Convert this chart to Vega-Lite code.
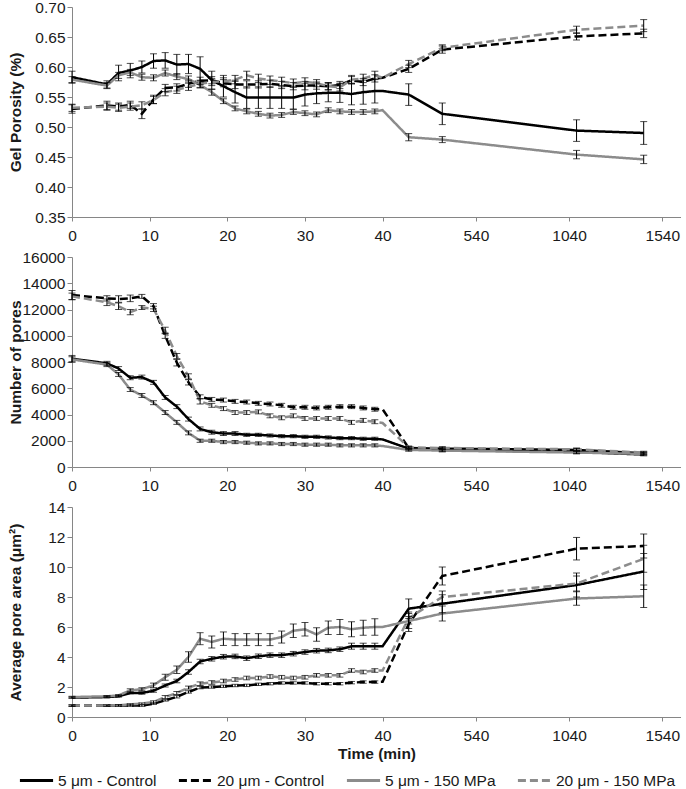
{
"$schema": "https://vega.github.io/schema/vega-lite/v6.json",
"padding": {"left": 7, "top": 0, "right": 0, "bottom": 0},
"spacing": 40,
"bounds": "flush",
"config": {
  "view": {"stroke": null},
  "font": "Liberation Sans",
  "axis": {"grid": false, "domainColor": "#868686", "tickColor": "#868686", "tickSize": 5, "labelFont": "Liberation Sans", "labelFontSize": 15.5, "labelColor": "#1a1a1a", "labelFlush": false, "labelOverlap": false, "titleFont": "Liberation Sans", "titleFontSize": 15.5, "titleFontWeight": "bold", "titleColor": "#1a1a1a"},
  "axisX": {"labelPadding": 7, "titlePadding": 3, "tickSize": 4},
  "axisY": {"labelPadding": 2, "titleX": -49, "titleBaseline": "bottom"}
},
"datasets": {
"a": [
{"t":0,"s":"c5","v":0.583,"e":0.01},{"t":4.5,"s":"c5","v":0.571,"e":0.006},{"t":6,"s":"c5","v":0.59,"e":0.013},{"t":7.5,"s":"c5","v":0.594,"e":0.012},{"t":9,"s":"c5","v":0.6,"e":0.01},{"t":10.5,"s":"c5","v":0.61,"e":0.012},{"t":12,"s":"c5","v":0.611,"e":0.013},{"t":13.5,"s":"c5","v":0.604,"e":0.017},{"t":15,"s":"c5","v":0.605,"e":0.016},{"t":16.5,"s":"c5","v":0.597,"e":0.02},{"t":18,"s":"c5","v":0.578,"e":0.015},{"t":19.5,"s":"c5","v":0.568,"e":0.018},{"t":21,"s":"c5","v":0.558,"e":0.018},{"t":22.5,"s":"c5","v":0.549,"e":0.018},{"t":24,"s":"c5","v":0.549,"e":0.018},{"t":25.5,"s":"c5","v":0.549,"e":0.018},{"t":27,"s":"c5","v":0.549,"e":0.018},{"t":28.5,"s":"c5","v":0.549,"e":0.019},{"t":30,"s":"c5","v":0.554,"e":0.019},{"t":31.5,"s":"c5","v":0.556,"e":0.017},{"t":33,"s":"c5","v":0.557,"e":0.015},{"t":34.5,"s":"c5","v":0.557,"e":0.016},{"t":36,"s":"c5","v":0.555,"e":0.018},{"t":37.5,"s":"c5","v":0.558,"e":0.02},{"t":39,"s":"c5","v":0.56,"e":0.02},{"t":40,"s":"c5","v":0.56},{"t":180,"s":"c5","v":0.554,"e":0.018},{"t":360,"s":"c5","v":0.522,"e":0.018},{"t":1080,"s":"c5","v":0.494,"e":0.018},{"t":1440,"s":"c5","v":0.49,"e":0.019},
{"t":0,"s":"c20","v":0.53,"e":0.007},{"t":4.5,"s":"c20","v":0.536,"e":0.007},{"t":6,"s":"c20","v":0.534,"e":0.006},{"t":7.5,"s":"c20","v":0.537,"e":0.006},{"t":9,"s":"c20","v":0.522,"e":0.008},{"t":10.5,"s":"c20","v":0.546,"e":0.007},{"t":12,"s":"c20","v":0.565,"e":0.006},{"t":13.5,"s":"c20","v":0.566,"e":0.006},{"t":15,"s":"c20","v":0.572,"e":0.006},{"t":16.5,"s":"c20","v":0.577,"e":0.006},{"t":18,"s":"c20","v":0.578,"e":0.006},{"t":19.5,"s":"c20","v":0.573,"e":0.006},{"t":21,"s":"c20","v":0.571,"e":0.007},{"t":22.5,"s":"c20","v":0.571,"e":0.006},{"t":24,"s":"c20","v":0.571,"e":0.006},{"t":25.5,"s":"c20","v":0.572,"e":0.006},{"t":27,"s":"c20","v":0.57,"e":0.006},{"t":28.5,"s":"c20","v":0.568,"e":0.006},{"t":30,"s":"c20","v":0.569,"e":0.007},{"t":31.5,"s":"c20","v":0.569,"e":0.006},{"t":33,"s":"c20","v":0.568,"e":0.006},{"t":34.5,"s":"c20","v":0.57,"e":0.006},{"t":36,"s":"c20","v":0.578,"e":0.006},{"t":37.5,"s":"c20","v":0.575,"e":0.006},{"t":39,"s":"c20","v":0.581,"e":0.006},{"t":40,"s":"c20","v":0.582},{"t":180,"s":"c20","v":0.597,"e":0.006},{"t":360,"s":"c20","v":0.629,"e":0.006},{"t":1080,"s":"c20","v":0.651,"e":0.006},{"t":1440,"s":"c20","v":0.656,"e":0.007},
{"t":0,"s":"p5","v":0.579,"e":0.005},{"t":4.5,"s":"p5","v":0.569,"e":0.005},{"t":6,"s":"p5","v":0.586,"e":0.005},{"t":7.5,"s":"p5","v":0.591,"e":0.005},{"t":9,"s":"p5","v":0.583,"e":0.005},{"t":10.5,"s":"p5","v":0.582,"e":0.005},{"t":12,"s":"p5","v":0.59,"e":0.005},{"t":13.5,"s":"p5","v":0.584,"e":0.005},{"t":15,"s":"p5","v":0.58,"e":0.005},{"t":16.5,"s":"p5","v":0.57,"e":0.005},{"t":18,"s":"p5","v":0.558,"e":0.005},{"t":19.5,"s":"p5","v":0.543,"e":0.004},{"t":21,"s":"p5","v":0.531,"e":0.004},{"t":22.5,"s":"p5","v":0.526,"e":0.004},{"t":24,"s":"p5","v":0.522,"e":0.004},{"t":25.5,"s":"p5","v":0.519,"e":0.004},{"t":27,"s":"p5","v":0.52,"e":0.004},{"t":28.5,"s":"p5","v":0.525,"e":0.004},{"t":30,"s":"p5","v":0.523,"e":0.004},{"t":31.5,"s":"p5","v":0.521,"e":0.004},{"t":33,"s":"p5","v":0.528,"e":0.004},{"t":34.5,"s":"p5","v":0.526,"e":0.004},{"t":36,"s":"p5","v":0.525,"e":0.004},{"t":37.5,"s":"p5","v":0.525,"e":0.004},{"t":39,"s":"p5","v":0.526,"e":0.004},{"t":40,"s":"p5","v":0.528},{"t":180,"s":"p5","v":0.483,"e":0.006},{"t":360,"s":"p5","v":0.479,"e":0.005},{"t":1080,"s":"p5","v":0.454,"e":0.007},{"t":1440,"s":"p5","v":0.446,"e":0.007},
{"t":0,"s":"p20","v":0.532,"e":0.006},{"t":4.5,"s":"p20","v":0.534,"e":0.006},{"t":6,"s":"p20","v":0.532,"e":0.006},{"t":7.5,"s":"p20","v":0.534,"e":0.006},{"t":9,"s":"p20","v":0.536,"e":0.006},{"t":10.5,"s":"p20","v":0.545,"e":0.006},{"t":12,"s":"p20","v":0.558,"e":0.006},{"t":13.5,"s":"p20","v":0.562,"e":0.006},{"t":15,"s":"p20","v":0.567,"e":0.006},{"t":16.5,"s":"p20","v":0.572,"e":0.006},{"t":18,"s":"p20","v":0.575,"e":0.006},{"t":19.5,"s":"p20","v":0.576,"e":0.006},{"t":21,"s":"p20","v":0.579,"e":0.007},{"t":22.5,"s":"p20","v":0.586,"e":0.007},{"t":24,"s":"p20","v":0.581,"e":0.007},{"t":25.5,"s":"p20","v":0.578,"e":0.007},{"t":27,"s":"p20","v":0.576,"e":0.007},{"t":28.5,"s":"p20","v":0.573,"e":0.007},{"t":30,"s":"p20","v":0.575,"e":0.007},{"t":31.5,"s":"p20","v":0.573,"e":0.006},{"t":33,"s":"p20","v":0.568,"e":0.006},{"t":34.5,"s":"p20","v":0.566,"e":0.006},{"t":36,"s":"p20","v":0.579,"e":0.007},{"t":37.5,"s":"p20","v":0.581,"e":0.007},{"t":39,"s":"p20","v":0.586,"e":0.007},{"t":40,"s":"p20","v":0.582},{"t":180,"s":"p20","v":0.605,"e":0.006},{"t":360,"s":"p20","v":0.632,"e":0.005},{"t":1080,"s":"p20","v":0.662,"e":0.006},{"t":1440,"s":"p20","v":0.669,"e":0.01}
],
"b": [
{"t":0,"s":"c5","v":8250,"e":250},{"t":4.5,"s":"c5","v":7900,"e":150},{"t":6,"s":"c5","v":7500,"e":150},{"t":7.5,"s":"c5","v":6800,"e":150},{"t":9,"s":"c5","v":6850,"e":150},{"t":10.5,"s":"c5","v":6450,"e":150},{"t":12,"s":"c5","v":5300,"e":150},{"t":13.5,"s":"c5","v":4600,"e":150},{"t":15,"s":"c5","v":3650,"e":150},{"t":16.5,"s":"c5","v":2900,"e":150},{"t":18,"s":"c5","v":2650,"e":150},{"t":19.5,"s":"c5","v":2550,"e":150},{"t":21,"s":"c5","v":2550,"e":150},{"t":22.5,"s":"c5","v":2450,"e":120},{"t":24,"s":"c5","v":2450,"e":120},{"t":25.5,"s":"c5","v":2400,"e":120},{"t":27,"s":"c5","v":2350,"e":120},{"t":28.5,"s":"c5","v":2350,"e":120},{"t":30,"s":"c5","v":2300,"e":120},{"t":31.5,"s":"c5","v":2300,"e":120},{"t":33,"s":"c5","v":2250,"e":120},{"t":34.5,"s":"c5","v":2200,"e":120},{"t":36,"s":"c5","v":2200,"e":120},{"t":37.5,"s":"c5","v":2150,"e":120},{"t":39,"s":"c5","v":2150,"e":120},{"t":40,"s":"c5","v":2100},{"t":180,"s":"c5","v":1400,"e":100},{"t":360,"s":"c5","v":1300,"e":100},{"t":1080,"s":"c5","v":1150,"e":100},{"t":1440,"s":"c5","v":950,"e":100},
{"t":0,"s":"c20","v":13100,"e":350},{"t":4.5,"s":"c20","v":12850,"e":200},{"t":6,"s":"c20","v":12800,"e":250},{"t":7.5,"s":"c20","v":12850,"e":250},{"t":9,"s":"c20","v":13000,"e":150},{"t":10.5,"s":"c20","v":12250,"e":200},{"t":12,"s":"c20","v":10000,"e":200},{"t":13.5,"s":"c20","v":7950,"e":250},{"t":15,"s":"c20","v":6450,"e":200},{"t":16.5,"s":"c20","v":5350,"e":150},{"t":18,"s":"c20","v":5150,"e":150},{"t":19.5,"s":"c20","v":5100,"e":150},{"t":21,"s":"c20","v":5000,"e":150},{"t":22.5,"s":"c20","v":4950,"e":150},{"t":24,"s":"c20","v":4850,"e":150},{"t":25.5,"s":"c20","v":4800,"e":150},{"t":27,"s":"c20","v":4700,"e":150},{"t":28.5,"s":"c20","v":4550,"e":150},{"t":30,"s":"c20","v":4550,"e":150},{"t":31.5,"s":"c20","v":4500,"e":150},{"t":33,"s":"c20","v":4550,"e":150},{"t":34.5,"s":"c20","v":4600,"e":150},{"t":36,"s":"c20","v":4600,"e":150},{"t":37.5,"s":"c20","v":4500,"e":150},{"t":39,"s":"c20","v":4400,"e":150},{"t":40,"s":"c20","v":4400},{"t":180,"s":"c20","v":1450,"e":100},{"t":360,"s":"c20","v":1400,"e":100},{"t":1080,"s":"c20","v":1300,"e":100},{"t":1440,"s":"c20","v":1050,"e":100},
{"t":0,"s":"p5","v":8200,"e":200},{"t":4.5,"s":"p5","v":7800,"e":150},{"t":6,"s":"p5","v":7050,"e":150},{"t":7.5,"s":"p5","v":5900,"e":150},{"t":9,"s":"p5","v":5450,"e":150},{"t":10.5,"s":"p5","v":4900,"e":150},{"t":12,"s":"p5","v":4150,"e":150},{"t":13.5,"s":"p5","v":3400,"e":150},{"t":15,"s":"p5","v":2600,"e":150},{"t":16.5,"s":"p5","v":2000,"e":120},{"t":18,"s":"p5","v":2000,"e":120},{"t":19.5,"s":"p5","v":1900,"e":120},{"t":21,"s":"p5","v":1900,"e":120},{"t":22.5,"s":"p5","v":1850,"e":120},{"t":24,"s":"p5","v":1800,"e":120},{"t":25.5,"s":"p5","v":1800,"e":120},{"t":27,"s":"p5","v":1750,"e":120},{"t":28.5,"s":"p5","v":1750,"e":120},{"t":30,"s":"p5","v":1700,"e":120},{"t":31.5,"s":"p5","v":1700,"e":120},{"t":33,"s":"p5","v":1700,"e":120},{"t":34.5,"s":"p5","v":1650,"e":120},{"t":36,"s":"p5","v":1650,"e":120},{"t":37.5,"s":"p5","v":1650,"e":120},{"t":39,"s":"p5","v":1650,"e":120},{"t":40,"s":"p5","v":1600},{"t":180,"s":"p5","v":1300,"e":100},{"t":360,"s":"p5","v":1250,"e":100},{"t":1080,"s":"p5","v":1100,"e":100},{"t":1440,"s":"p5","v":1000,"e":100},
{"t":0,"s":"p20","v":13000,"e":250},{"t":4.5,"s":"p20","v":12550,"e":250},{"t":6,"s":"p20","v":12250,"e":250},{"t":7.5,"s":"p20","v":11800,"e":200},{"t":9,"s":"p20","v":12150,"e":150},{"t":10.5,"s":"p20","v":12050,"e":200},{"t":12,"s":"p20","v":10400,"e":250},{"t":13.5,"s":"p20","v":8450,"e":200},{"t":15,"s":"p20","v":6900,"e":200},{"t":16.5,"s":"p20","v":5000,"e":200},{"t":18,"s":"p20","v":4700,"e":150},{"t":19.5,"s":"p20","v":4450,"e":150},{"t":21,"s":"p20","v":4150,"e":150},{"t":22.5,"s":"p20","v":4150,"e":150},{"t":24,"s":"p20","v":4200,"e":150},{"t":25.5,"s":"p20","v":3900,"e":150},{"t":27,"s":"p20","v":3750,"e":150},{"t":28.5,"s":"p20","v":3900,"e":150},{"t":30,"s":"p20","v":3700,"e":150},{"t":31.5,"s":"p20","v":3700,"e":150},{"t":33,"s":"p20","v":3700,"e":150},{"t":34.5,"s":"p20","v":3700,"e":150},{"t":36,"s":"p20","v":3400,"e":150},{"t":37.5,"s":"p20","v":3550,"e":150},{"t":39,"s":"p20","v":3450,"e":150},{"t":40,"s":"p20","v":3350},{"t":180,"s":"p20","v":1500,"e":100},{"t":360,"s":"p20","v":1450,"e":100},{"t":1080,"s":"p20","v":1350,"e":100},{"t":1440,"s":"p20","v":1100,"e":100}
],
"c": [
{"t":0,"s":"c5","v":1.29,"e":0.05},{"t":4.5,"s":"c5","v":1.33,"e":0.05},{"t":6,"s":"c5","v":1.38,"e":0.05},{"t":7.5,"s":"c5","v":1.6,"e":0.05},{"t":9,"s":"c5","v":1.6,"e":0.08},{"t":10.5,"s":"c5","v":1.75,"e":0.1},{"t":12,"s":"c5","v":2.1,"e":0.1},{"t":13.5,"s":"c5","v":2.4,"e":0.12},{"t":15,"s":"c5","v":3.0,"e":0.15},{"t":16.5,"s":"c5","v":3.7,"e":0.15},{"t":18,"s":"c5","v":3.88,"e":0.15},{"t":19.5,"s":"c5","v":4.02,"e":0.15},{"t":21,"s":"c5","v":4.04,"e":0.15},{"t":22.5,"s":"c5","v":3.92,"e":0.15},{"t":24,"s":"c5","v":4.05,"e":0.15},{"t":25.5,"s":"c5","v":4.12,"e":0.15},{"t":27,"s":"c5","v":4.12,"e":0.15},{"t":28.5,"s":"c5","v":4.22,"e":0.15},{"t":30,"s":"c5","v":4.33,"e":0.15},{"t":31.5,"s":"c5","v":4.42,"e":0.15},{"t":33,"s":"c5","v":4.44,"e":0.15},{"t":34.5,"s":"c5","v":4.52,"e":0.15},{"t":36,"s":"c5","v":4.72,"e":0.2},{"t":37.5,"s":"c5","v":4.72,"e":0.2},{"t":39,"s":"c5","v":4.72,"e":0.2},{"t":40,"s":"c5","v":4.72},{"t":180,"s":"c5","v":7.22,"e":0.65},{"t":360,"s":"c5","v":7.55,"e":0.6},{"t":1080,"s":"c5","v":8.8,"e":0.8},{"t":1440,"s":"c5","v":9.7,"e":1.2},
{"t":0,"s":"c20","v":0.76,"e":0.05},{"t":4.5,"s":"c20","v":0.76,"e":0.05},{"t":6,"s":"c20","v":0.76,"e":0.05},{"t":7.5,"s":"c20","v":0.76,"e":0.05},{"t":9,"s":"c20","v":0.76,"e":0.05},{"t":10.5,"s":"c20","v":0.89,"e":0.05},{"t":12,"s":"c20","v":1.11,"e":0.05},{"t":13.5,"s":"c20","v":1.35,"e":0.08},{"t":15,"s":"c20","v":1.67,"e":0.08},{"t":16.5,"s":"c20","v":1.96,"e":0.08},{"t":18,"s":"c20","v":2.0,"e":0.08},{"t":19.5,"s":"c20","v":2.05,"e":0.08},{"t":21,"s":"c20","v":2.1,"e":0.08},{"t":22.5,"s":"c20","v":2.11,"e":0.08},{"t":24,"s":"c20","v":2.18,"e":0.08},{"t":25.5,"s":"c20","v":2.22,"e":0.08},{"t":27,"s":"c20","v":2.27,"e":0.08},{"t":28.5,"s":"c20","v":2.27,"e":0.08},{"t":30,"s":"c20","v":2.27,"e":0.08},{"t":31.5,"s":"c20","v":2.22,"e":0.08},{"t":33,"s":"c20","v":2.22,"e":0.08},{"t":34.5,"s":"c20","v":2.22,"e":0.08},{"t":36,"s":"c20","v":2.29,"e":0.08},{"t":37.5,"s":"c20","v":2.33,"e":0.08},{"t":39,"s":"c20","v":2.33,"e":0.08},{"t":40,"s":"c20","v":2.35},{"t":180,"s":"c20","v":6.2,"e":0.5},{"t":360,"s":"c20","v":9.4,"e":0.6},{"t":1080,"s":"c20","v":11.22,"e":0.75},{"t":1440,"s":"c20","v":11.4,"e":0.8},
{"t":0,"s":"p5","v":1.33,"e":0.05},{"t":4.5,"s":"p5","v":1.38,"e":0.05},{"t":6,"s":"p5","v":1.44,"e":0.05},{"t":7.5,"s":"p5","v":1.78,"e":0.1},{"t":9,"s":"p5","v":1.85,"e":0.1},{"t":10.5,"s":"p5","v":2.11,"e":0.15},{"t":12,"s":"p5","v":2.65,"e":0.2},{"t":13.5,"s":"p5","v":3.15,"e":0.25},{"t":15,"s":"p5","v":4.0,"e":0.35},{"t":16.5,"s":"p5","v":5.22,"e":0.4},{"t":18,"s":"p5","v":5.0,"e":0.4},{"t":19.5,"s":"p5","v":5.22,"e":0.45},{"t":21,"s":"p5","v":5.16,"e":0.4},{"t":22.5,"s":"p5","v":5.16,"e":0.4},{"t":24,"s":"p5","v":5.16,"e":0.4},{"t":25.5,"s":"p5","v":5.16,"e":0.4},{"t":27,"s":"p5","v":5.33,"e":0.4},{"t":28.5,"s":"p5","v":5.75,"e":0.45},{"t":30,"s":"p5","v":5.85,"e":0.45},{"t":31.5,"s":"p5","v":5.5,"e":0.45},{"t":33,"s":"p5","v":5.95,"e":0.45},{"t":34.5,"s":"p5","v":6.0,"e":0.5},{"t":36,"s":"p5","v":5.85,"e":0.5},{"t":37.5,"s":"p5","v":5.95,"e":0.5},{"t":39,"s":"p5","v":6.0,"e":0.55},{"t":40,"s":"p5","v":6.0},{"t":180,"s":"p5","v":6.4,"e":0.5},{"t":360,"s":"p5","v":6.9,"e":0.5},{"t":1080,"s":"p5","v":7.9,"e":0.45},{"t":1440,"s":"p5","v":8.05,"e":0.75},
{"t":0,"s":"p20","v":0.76,"e":0.05},{"t":4.5,"s":"p20","v":0.76,"e":0.05},{"t":6,"s":"p20","v":0.78,"e":0.05},{"t":7.5,"s":"p20","v":0.84,"e":0.05},{"t":9,"s":"p20","v":0.89,"e":0.05},{"t":10.5,"s":"p20","v":1.0,"e":0.08},{"t":12,"s":"p20","v":1.33,"e":0.1},{"t":13.5,"s":"p20","v":1.6,"e":0.1},{"t":15,"s":"p20","v":1.96,"e":0.1},{"t":16.5,"s":"p20","v":2.22,"e":0.12},{"t":18,"s":"p20","v":2.3,"e":0.12},{"t":19.5,"s":"p20","v":2.4,"e":0.12},{"t":21,"s":"p20","v":2.5,"e":0.12},{"t":22.5,"s":"p20","v":2.6,"e":0.12},{"t":24,"s":"p20","v":2.6,"e":0.12},{"t":25.5,"s":"p20","v":2.7,"e":0.12},{"t":27,"s":"p20","v":2.65,"e":0.12},{"t":28.5,"s":"p20","v":2.6,"e":0.12},{"t":30,"s":"p20","v":2.65,"e":0.12},{"t":31.5,"s":"p20","v":2.78,"e":0.12},{"t":33,"s":"p20","v":2.78,"e":0.12},{"t":34.5,"s":"p20","v":2.78,"e":0.12},{"t":36,"s":"p20","v":3.1,"e":0.12},{"t":37.5,"s":"p20","v":3.0,"e":0.12},{"t":39,"s":"p20","v":3.1,"e":0.12},{"t":40,"s":"p20","v":3.1},{"t":180,"s":"p20","v":6.6,"e":0.4},{"t":360,"s":"p20","v":8.0,"e":0.4},{"t":1080,"s":"p20","v":8.9,"e":0.5},{"t":1440,"s":"p20","v":10.55,"e":0.9}
]
},
"vconcat": [
{
  "width": 609, "height": 210,
  "data": {"name": "a"},
  "encoding": {
    "x": {"field": "t", "type": "quantitative", "scale": {"domain": [0, 40, 1640], "range": [0, 310.6, 609], "nice": false, "zero": false}, "axis": {"values": [0, 10, 20, 30, 40, 540, 1040, 1540], "format": "d", "title": null}},
    "y": {"field": "v", "type": "quantitative", "scale": {"domain": [0.35, 0.7], "nice": false, "zero": false}, "axis": {"values": [0.35, 0.4, 0.45, 0.5, 0.55, 0.6, 0.65, 0.7], "format": ".2f", "title": "Gel Porosity (%)"}}
  },
  "layer": [
    {"mark": {"type": "line", "strokeWidth": 2.5},
     "encoding": {
       "color": {"field": "s", "type": "nominal", "scale": {"domain": ["c5", "c20", "p5", "p20"], "range": ["#000000", "#000000", "#8c8c8c", "#8c8c8c"]},
         "legend": {"orient": "none", "legendX": -54, "legendY": 755, "direction": "horizontal", "title": null, "symbolType": "stroke", "symbolSize": 1100, "symbolStrokeWidth": 3, "columnPadding": 15, "labelOffset": 3, "labelLimit": 0, "labelFontSize": 15.5, "labelFont": "Liberation Sans", "labelColor": "#1a1a1a", "labelExpr": "datum.label == 'c5' ? '5 μm - Control' : datum.label == 'c20' ? '20 μm - Control' : datum.label == 'p5' ? '5 μm - 150 MPa' : '20 μm - 150 MPa'"}},
       "strokeDash": {"field": "s", "type": "nominal", "scale": {"domain": ["c5", "c20", "p5", "p20"], "range": [[1, 0], [8, 4], [1, 0], [8, 4]]},
         "legend": {"orient": "none", "legendX": -54, "legendY": 755, "direction": "horizontal", "title": null, "symbolType": "stroke", "symbolSize": 1100, "symbolStrokeWidth": 3, "columnPadding": 15, "labelOffset": 3, "labelLimit": 0, "labelFontSize": 15.5, "labelFont": "Liberation Sans", "labelColor": "#1a1a1a", "labelExpr": "datum.label == 'c5' ? '5 μm - Control' : datum.label == 'c20' ? '20 μm - Control' : datum.label == 'p5' ? '5 μm - 150 MPa' : '20 μm - 150 MPa'"}}
     }},
    {"transform": [{"filter": "isValid(datum.e)"}],
     "mark": {"type": "errorbar", "ticks": {"size": 7}, "color": "#000000", "thickness": 1},
     "encoding": {"yError": {"field": "e"}}},
    {"data": {"values": [{}]}, "mark": {"type": "rule", "color": "#868686", "strokeWidth": 1.5},
     "encoding": {"x": {"datum": 45}, "x2": {"datum": 99}, "y": {"datum": 0.339}, "y2": {"datum": 0.36}}},
    {"data": {"values": [{}]}, "mark": {"type": "rule", "color": "#868686", "strokeWidth": 1.5},
     "encoding": {"x": {"datum": 140}, "x2": {"datum": 192}, "y": {"datum": 0.339}, "y2": {"datum": 0.36}}},
    {"data": {"values": [{}]}, "mark": {"type": "text", "text": "A", "fontSize": 16, "fontWeight": "bold", "align": "left", "baseline": "middle", "color": "#000000"},
     "encoding": {"x": {"datum": 1.1}, "y": {"datum": 0.682}}}
  ]
},
{
  "width": 609, "height": 210,
  "data": {"name": "b"},
  "encoding": {
    "x": {"field": "t", "type": "quantitative", "scale": {"domain": [0, 40, 1640], "range": [0, 310.6, 609], "nice": false, "zero": false}, "axis": {"values": [0, 10, 20, 30, 40, 540, 1040, 1540], "format": "d", "title": null}},
    "y": {"field": "v", "type": "quantitative", "scale": {"domain": [0, 16000], "nice": false}, "axis": {"values": [0, 2000, 4000, 6000, 8000, 10000, 12000, 14000, 16000], "format": "d", "title": "Number of pores"}}
  },
  "layer": [
    {"mark": {"type": "line", "strokeWidth": 2.5},
     "encoding": {
       "color": {"field": "s", "type": "nominal", "scale": {"domain": ["c5", "c20", "p5", "p20"], "range": ["#000000", "#000000", "#8c8c8c", "#8c8c8c"]}},
       "strokeDash": {"field": "s", "type": "nominal", "scale": {"domain": ["c5", "c20", "p5", "p20"], "range": [[1, 0], [8, 4], [1, 0], [8, 4]]}}
     }},
    {"transform": [{"filter": "isValid(datum.e)"}],
     "mark": {"type": "errorbar", "ticks": {"size": 7}, "color": "#000000", "thickness": 1},
     "encoding": {"yError": {"field": "e"}}},
    {"data": {"values": [{}]}, "mark": {"type": "rule", "color": "#868686", "strokeWidth": 1.5},
     "encoding": {"x": {"datum": 45}, "x2": {"datum": 99}, "y": {"datum": -500}, "y2": {"datum": 480}}},
    {"data": {"values": [{}]}, "mark": {"type": "rule", "color": "#868686", "strokeWidth": 1.5},
     "encoding": {"x": {"datum": 140}, "x2": {"datum": 192}, "y": {"datum": -500}, "y2": {"datum": 480}}},
    {"data": {"values": [{}]}, "mark": {"type": "text", "text": "B", "fontSize": 16, "fontWeight": "bold", "align": "left", "baseline": "middle", "color": "#000000"},
     "encoding": {"x": {"datum": 1.1}, "y": {"datum": 15100}}}
  ]
},
{
  "width": 609, "height": 210,
  "data": {"name": "c"},
  "encoding": {
    "x": {"field": "t", "type": "quantitative", "scale": {"domain": [0, 40, 1640], "range": [0, 310.6, 609], "nice": false, "zero": false}, "axis": {"values": [0, 10, 20, 30, 40, 540, 1040, 1540], "format": "d", "title": "Time (min)"}},
    "y": {"field": "v", "type": "quantitative", "scale": {"domain": [0, 14], "nice": false}, "axis": {"values": [0, 2, 4, 6, 8, 10, 12, 14], "format": "d", "title": "Average pore area (μm²)"}}
  },
  "layer": [
    {"mark": {"type": "line", "strokeWidth": 2.5},
     "encoding": {
       "color": {"field": "s", "type": "nominal", "scale": {"domain": ["c5", "c20", "p5", "p20"], "range": ["#000000", "#000000", "#8c8c8c", "#8c8c8c"]}},
       "strokeDash": {"field": "s", "type": "nominal", "scale": {"domain": ["c5", "c20", "p5", "p20"], "range": [[1, 0], [8, 4], [1, 0], [8, 4]]}}
     }},
    {"transform": [{"filter": "isValid(datum.e)"}],
     "mark": {"type": "errorbar", "ticks": {"size": 7}, "color": "#000000", "thickness": 1},
     "encoding": {"yError": {"field": "e"}}},
    {"data": {"values": [{}]}, "mark": {"type": "rule", "color": "#868686", "strokeWidth": 1.5},
     "encoding": {"x": {"datum": 45}, "x2": {"datum": 99}, "y": {"datum": -0.43}, "y2": {"datum": 0.4}}},
    {"data": {"values": [{}]}, "mark": {"type": "rule", "color": "#868686", "strokeWidth": 1.5},
     "encoding": {"x": {"datum": 140}, "x2": {"datum": 192}, "y": {"datum": -0.43}, "y2": {"datum": 0.4}}},
    {"data": {"values": [{}]}, "mark": {"type": "text", "text": "C", "fontSize": 16, "fontWeight": "bold", "align": "left", "baseline": "middle", "color": "#000000"},
     "encoding": {"x": {"datum": 1.1}, "y": {"datum": 13.0}}}
  ]
}
]
}
